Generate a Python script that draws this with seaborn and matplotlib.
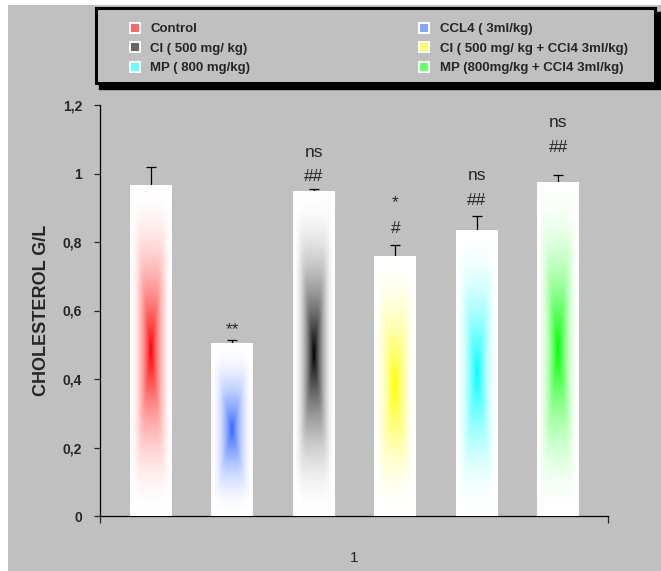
import numpy as np
import pandas as pd
import matplotlib
matplotlib.use('Agg')
import matplotlib.pyplot as plt
from matplotlib.patches import Rectangle
from matplotlib.lines import Line2D
from matplotlib.colors import to_rgb
import seaborn as sns

# données
groups = ['Control', 'CCL4 ( 3ml/kg)', 'CI ( 500 mg/ kg)',
          'CI ( 500 mg/ kg + CCl4 3ml/kg)', 'MP ( 800 mg/kg)',
          'MP (800mg/kg + CCl4 3ml/kg)']
values = [0.966, 0.503, 0.946, 0.759, 0.835, 0.975]
errors = [0.052, 0.012, 0.009, 0.033, 0.040, 0.020]
colors = ['#ff0000', '#3366ff', '#000000', '#ffff00', '#00ffff', '#00ff00']
marks_low = ['', '**', '##', '#', '##', '##']
marks_high = ['', '', 'ns', '*', 'ns', 'ns']
y_low = [0, 0.545, 0.990, 0.838, 0.920, 1.077]
y_high = [0, 0, 1.060, 0.915, 0.993, 1.150]
legend_order = [0, 2, 4, 1, 3, 5]

df = pd.DataFrame({'groupe': groups, 'cholesterol': values})

sns.set_style('ticks')
plt.rcParams['font.family'] = ['Liberation Sans', 'DejaVu Sans']

W, H = 661, 571
fig = plt.figure(figsize=(W / 100, H / 100), dpi=100)
fig.patch.set_facecolor('white')
fig.patches.append(Rectangle((8 / W, 0), 1, 1 - 5 / H, transform=fig.transFigure,
                             facecolor='#c0c0c0', edgecolor='none', zorder=-10))

ax = fig.add_axes([100 / W, 1 - 516 / H, 508 / W, 411 / H])
ax.set_facecolor('none')

sns.barplot(data=df, x='groupe', y='cholesterol', hue='groupe', palette=colors,
            width=0.515, legend=False, ax=ax)


def gradient(color, n=240, m=60):
    # dégradé "depuis le centre" façon Excel, contours adoucis
    yy = np.linspace(-1, 1, n)[:, None]
    xx = np.linspace(-1, 1, m)[None, :]
    d = (np.abs(xx) ** 6 + np.abs(yy) ** 6) ** (1 / 6)
    f = np.clip(1 - d, 0, 1) ** 1.9
    rgb = np.array(to_rgb(color))
    return 1 - f[..., None] * (1 - rgb)


centers = []
for p, c in zip(ax.patches, colors):
    x0, w, h = p.get_x(), p.get_width(), p.get_height()
    p.set_facecolor('white')
    p.set_edgecolor('none')
    ax.imshow(gradient(c), extent=[x0, x0 + w, 0, h], aspect='auto',
              interpolation='bilinear', zorder=3)
    centers.append(x0 + w / 2)

eb = ax.errorbar(centers, values, yerr=[np.zeros(len(values)), errors], fmt='none',
                 ecolor='black', elinewidth=0.9, capsize=3.3, capthick=0.9, zorder=2)
eb[1][0].set_visible(False)

for x, t, y in zip(centers, marks_low, y_low):
    if t:
        ax.text(x, y, t, ha='center', va='center', fontsize=12.5)
for x, t, y in zip(centers, marks_high, y_high):
    if t:
        ax.text(x, y, t, ha='center', va='center', fontsize=12.5)

xmin, xmax = -0.626, 5.61
ax.set_xlim(xmin, xmax)
ax.set_ylim(0, 1.2)
ax.set_yticks(np.arange(0, 1.21, 0.2))
ax.set_yticklabels(['0', '0,2', '0,4', '0,6', '0,8', '1', '1,2'],
                   fontsize=10, fontweight='bold')
ax.set_xticks([xmin, xmax])
ax.set_xticklabels(['', ''])
ax.set_xticks([(xmin + xmax) / 2], minor=True)
ax.set_xticklabels(['1'], minor=True, fontsize=11)
ax.tick_params(axis='x', which='major', length=5, width=0.9, direction='out')
ax.tick_params(axis='x', which='minor', length=0, pad=25)
ax.tick_params(axis='y', length=4, width=0.9, pad=9)
ax.set_xlabel('')
ax.set_ylabel('CHOLESTEROL G/L', fontsize=13, fontweight='bold', labelpad=9)
for s in ['top', 'right']:
    ax.spines[s].set_visible(False)
for s in ['left', 'bottom']:
    ax.spines[s].set_color('black')
    ax.spines[s].set_linewidth(0.9)

# cadre de la légende avec ombre
fig.patches.append(Rectangle(((94 + 5) / W, 1 - (84 + 5) / H), 562 / W, 77 / H,
                             transform=fig.transFigure, facecolor='black',
                             edgecolor='black', zorder=1))
fig.patches.append(Rectangle((95.5 / W, 1 - 82.5 / H), 559 / W, 74 / H,
                             transform=fig.transFigure, facecolor='#c0c0c0',
                             edgecolor='black', linewidth=2.2, zorder=2))

handles = []
for c in colors:
    light = 1 - 0.6 * (1 - np.array(to_rgb(c)))
    handles.append(Line2D([], [], marker='s', linestyle='none', markersize=6.5,
                          markerfacecolor=light, markeredgecolor='white',
                          markeredgewidth=1.4))
leg = fig.legend([handles[i] for i in legend_order],
                 [groups[i] for i in legend_order],
                 ncol=2, loc='upper left', mode='expand',
                 bbox_to_anchor=(130 / W, 1 - 23 / H, 498 / W, 0),
                 frameon=False, borderaxespad=0, borderpad=0,
                 handlelength=0.75, handletextpad=0.8, labelspacing=0.55,
                 prop={'size': 9.5, 'weight': 'bold'})
leg.set_zorder(5)

fig.savefig('out.png', dpi=100)
